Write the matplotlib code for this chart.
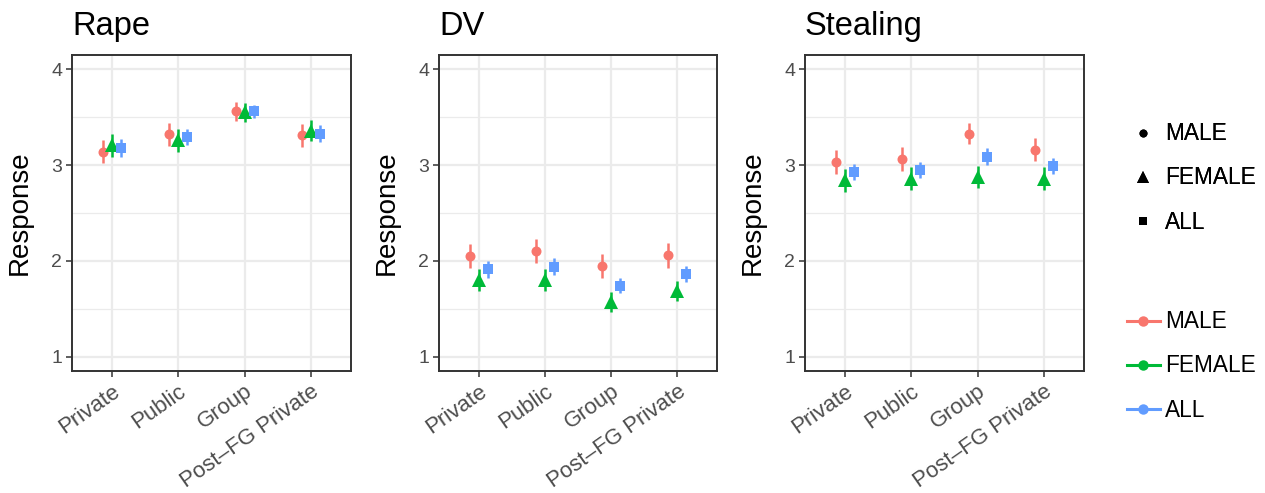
import matplotlib
matplotlib.use("Agg")
import matplotlib.pyplot as plt
from matplotlib.lines import Line2D
import numpy as np

plt.rcParams['font.family'] = ['Liberation Sans', 'DejaVu Sans']

# Conditions on the x axis
conditions = ["Private", "Public", "Group", "Post\u2013FG Private"]
groups = ["MALE", "FEMALE", "ALL"]
panel_titles = ["Rape", "DV", "Stealing"]

# Mean responses per panel and group
rape_male = [3.14, 3.32, 3.56, 3.31]
rape_female = [3.21, 3.26, 3.55, 3.36]
rape_all = [3.18, 3.29, 3.56, 3.33]
dv_male = [2.05, 2.10, 1.95, 2.06]
dv_female = [1.80, 1.80, 1.57, 1.69]
dv_all = [1.91, 1.94, 1.74, 1.86]
stealing_male = [3.03, 3.06, 3.33, 3.16]
stealing_female = [2.84, 2.86, 2.88, 2.86]
stealing_all = [2.93, 2.95, 3.09, 2.99]

# Half-widths of the intervals
rape_male_err = [0.12, 0.12, 0.10, 0.12]
rape_female_err = [0.12, 0.12, 0.10, 0.11]
rape_all_err = [0.09, 0.085, 0.07, 0.09]
dv_male_err = [0.125, 0.125, 0.125, 0.13]
dv_female_err = [0.11, 0.11, 0.10, 0.105]
dv_all_err = [0.09, 0.09, 0.08, 0.085]
stealing_male_err = [0.125, 0.125, 0.11, 0.12]
stealing_female_err = [0.12, 0.12, 0.115, 0.12]
stealing_all_err = [0.085, 0.085, 0.09, 0.085]

y_ticks = [1, 2, 3, 4]

panels = [
    ([rape_male, rape_female, rape_all], [rape_male_err, rape_female_err, rape_all_err]),
    ([dv_male, dv_female, dv_all], [dv_male_err, dv_female_err, dv_all_err]),
    ([stealing_male, stealing_female, stealing_all],
     [stealing_male_err, stealing_female_err, stealing_all_err]),
]

colors = ["#F8766D", "#00BA38", "#619CFF"]
markers = ["o", "^", "s"]
msizes = [7.2, 10.0, 7.2]
offsets = [-0.133, 0.0, 0.133]

W, H = 1265, 493
fig = plt.figure(figsize=(W / 100, H / 100), dpi=100)

lefts = [72, 439, 805]
right_edges = [351, 717, 1084]
top, bottom = 55, 371

grid_col = "#EBEBEB"
dark = "#333333"
tick_col = "#4D4D4D"

x = np.arange(len(conditions))
for i, (means, errs) in enumerate(panels):
    l, r = lefts[i], right_edges[i]
    ax = fig.add_axes([l / W, 1 - bottom / H, (r - l) / W, (bottom - top) / H])
    ax.set_xlim(-0.6, len(conditions) - 0.4)
    ax.set_ylim(0.85, 4.15)
    # background grid
    for yv in [1.5, 2.5, 3.5]:
        ax.axhline(yv, color=grid_col, lw=0.9, zorder=0)
    for yv in y_ticks:
        ax.axhline(yv, color=grid_col, lw=1.6, zorder=0)
    for xv in x:
        ax.axvline(xv, color=grid_col, lw=1.6, zorder=0)
    for g in range(3):
        xs = x + offsets[g]
        m = np.array(means[g])
        e = np.array(errs[g])
        ax.vlines(xs, m - e, m + e, color=colors[g], lw=1.8, zorder=2 + g)
        ax.plot(xs, m, linestyle="none", marker=markers[g], color=colors[g],
                markersize=msizes[g], markeredgewidth=0, zorder=2 + g)
    ax.set_yticks(y_ticks)
    ax.set_yticklabels([str(t) for t in y_ticks])
    ax.set_xticks(x)
    ax.set_xticklabels(conditions, rotation=35, ha="right", va="top",
                       rotation_mode="anchor")
    ax.tick_params(axis="both", colors=dark, labelcolor=tick_col,
                   length=4.5, width=1.1, pad=2.5)
    ax.tick_params(axis="y", labelsize=14)
    ax.tick_params(axis="x", labelsize=16)
    for s in ax.spines.values():
        s.set_color(dark)
        s.set_linewidth(1.4)
    ax.set_title(panel_titles[i], loc="left", fontsize=23.5, pad=14.5, color="black")
    ax.set_ylabel("Response", fontsize=20, color="black")
    ax.yaxis.set_label_coords(-39 / (r - l), 0.5)

# Shape legend
shape_handles = [Line2D([], [], linestyle="none", marker=mk, color="black",
                        markersize=ms * 0.8, markeredgewidth=0)
                 for mk, ms in zip(markers, msizes)]
leg1 = fig.legend(shape_handles, groups, loc="center left",
                  bbox_to_anchor=(1127 / W, 1 - 178 / H), frameon=False,
                  fontsize=16.3, handlelength=1.45, handletextpad=0.22,
                  labelspacing=0.93, borderpad=0, borderaxespad=0)

# Colour legend
color_handles = [Line2D([], [], color=c, lw=2.2, marker="o", markersize=7.5,
                        markeredgewidth=0) for c in colors]
leg2 = fig.legend(color_handles, groups, loc="center left",
                  bbox_to_anchor=(1127 / W, 1 - 366 / H), frameon=False,
                  fontsize=16.3, handlelength=1.45, handletextpad=0.22,
                  labelspacing=0.93, borderpad=0, borderaxespad=0)
fig.add_artist(leg1)

fig.savefig("out.png", dpi=100, facecolor="white")
